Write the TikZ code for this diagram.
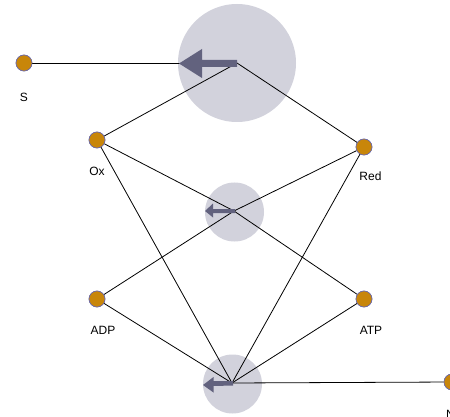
\documentclass[tikz,border=0pt]{standalone}
\usepackage{fontspec}
\setmainfont{Liberation Sans}
\begin{document}
\begin{tikzpicture}[x=1pt,y=-1pt,
  species/.style={circle,fill=specfill,draw=specline,line width=0.6pt,minimum size=16pt,inner sep=0pt},
  lbl/.style={font=\fontsize{12}{14}\selectfont,inner sep=0pt},
  hub/.style={fill=hubfill},
  conn/.style={draw=black,line width=0.8pt},
  flux/.style={fill=arrfill}]
\definecolor{specfill}{HTML}{C8860A}
\definecolor{specline}{HTML}{6A6AB0}
\definecolor{hubfill}{HTML}{D2D2DC}
\definecolor{arrfill}{HTML}{62627E}
\useasboundingbox (0,0) rectangle (450,417);
\clip (0,0) rectangle (450,417);
% hub circles
\fill[hub] (237,63) circle (59);
\fill[hub] (234.5,212) circle (29.5);
\fill[hub] (232.5,384) circle (29.5);
% hub centres
\coordinate (h1) at (237,63);
\coordinate (h2) at (234,211);
\coordinate (h3) at (232,383);
% species
\node[species] (S) at (24,63) {};
\node[species] (Ox) at (97,140) {};
\node[species] (Red) at (364,147) {};
\node[species] (ADP) at (97,299) {};
\node[species] (ATP) at (364,299) {};
\node[species] (N) at (452,382) {};
% connectors
\draw[conn] (S) -- (h1);
\draw[conn] (Ox) -- (h1);
\draw[conn] (Red) -- (h1);
\draw[conn] (Ox) -- (h2);
\draw[conn] (h2) -- (ATP);
\draw[conn] (Red) -- (h2);
\draw[conn] (h2) -- (ADP);
\draw[conn] (Ox) -- (h3);
\draw[conn] (Red) -- (h3);
\draw[conn] (ADP) -- (h3);
\draw[conn] (ATP) -- (h3);
\draw[conn] (N) -- (h3);
% flux arrows
\fill[flux] (237,60) -- (202,60) -- (202,49) -- (179,63.5) -- (202,78) -- (202,67) -- (237,67) -- cycle;
\fill[flux] (235,209) -- (213,209) -- (213,203.5) -- (205,211) -- (213,217.5) -- (213,213) -- (235,213) -- cycle;
\fill[flux] (233,381) -- (213.5,381) -- (213.5,377) -- (203,385) -- (213.5,392.5) -- (213.5,386) -- (233,385.5) -- cycle;
% species redrawn on top
\node[species] at (S) {};
\node[species] at (Ox) {};
\node[species] at (Red) {};
\node[species] at (ADP) {};
\node[species] at (ATP) {};
\node[species] at (N) {};
% labels
\node[lbl] (lS) at (24,97) {S};
\node[lbl] (lOx) at (97,171) {Ox};
\node[lbl] (lRed) at (370.5,176.5) {Red};
\node[lbl] (lADP) at (103,330) {ADP};
\node[lbl] (lATP) at (371,330) {ATP};
\node[lbl,anchor=west] (lN) at (446,414) {N};
\end{tikzpicture}
\end{document}
